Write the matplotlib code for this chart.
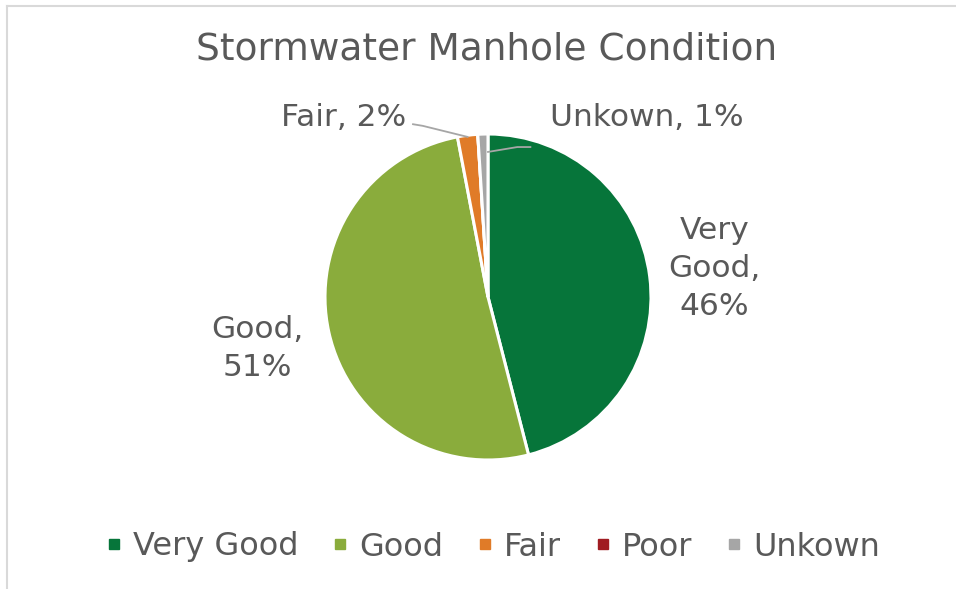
import matplotlib

matplotlib.use("Agg")
import matplotlib.pyplot as plt
import numpy as np
from matplotlib.lines import Line2D

# --- data ---------------------------------------------------------------
CATEGORIES = ["Very Good", "Good", "Fair", "Poor", "Unkown"]
SHARES = [46, 51, 2, 0, 1]
COLORS = ["#06753A", "#8AAC3C", "#E07B28", "#A01C22", "#A6A6A6"]

TEXT = "#595959"
FRAME = "#D9D9D9"

W, H, DPI = 956, 589, 100
CX, CY, R = 488, 297, 163  # pie centre / radius in pixels

plt.rcParams["font.family"] = ["DejaVu Sans"]

fig = plt.figure(figsize=(W / DPI, H / DPI), dpi=DPI)
ax = fig.add_axes([0, 0, 1, 1])
ax.axis("off")

wedges, _ = ax.pie(SHARES, colors=COLORS, startangle=90, counterclock=False,
                   radius=1.0, wedgeprops=dict(edgecolor="white", linewidth=2.2))
ax.set_xlim(-CX / R, (W - CX) / R)
ax.set_ylim(-(H - CY) / R, CY / R)
ax.set_aspect("auto")


def mid_angle(w):
    return np.deg2rad((w.theta1 + w.theta2) / 2)


LABEL_FS = 22.5

# big slices: labels out along the mid angle
for i, dist in ((0, 1.40), (1, 1.45)):
    a = mid_angle(wedges[i])
    name = CATEGORIES[i].replace(" ", "\n")
    ax.text(dist * np.cos(a), dist * np.sin(a), f"{name},\n{SHARES[i]}%",
            ha="center", va="center", fontsize=LABEL_FS, color=TEXT, linespacing=1.38)

# small slices: labels with leader lines
a = mid_angle(wedges[2])
p0 = (np.cos(a), np.sin(a))
ax.plot([p0[0], -0.40, -0.46], [p0[1] - 0.01, 1.05, 1.06], color="#A6A6A6", lw=1.3)
ax.text(-0.50, 1.10, f"{CATEGORIES[2]}, {SHARES[2]}%", ha="right", va="center",
        fontsize=LABEL_FS, color=TEXT)

ax.plot([0.0, 0.18, 0.26], [0.89, 0.92, 0.92], color="#A6A6A6", lw=1.3)
ax.text(0.38, 1.10, f"{CATEGORIES[4]}, {SHARES[4]}%", ha="left", va="center",
        fontsize=LABEL_FS, color=TEXT)

fig.text(487 / W, 1 - 50 / H, "Stormwater Manhole Condition", ha="center", va="center",
         fontsize=27, color=TEXT)

handles = [Line2D([], [], ls="", marker="s", markersize=7.5, color=c) for c in COLORS]
fig.legend(handles, CATEGORIES, loc="center", bbox_to_anchor=(0.515, 1 - 547 / H),
           ncol=5, frameon=False, fontsize=23, labelcolor=TEXT, handletextpad=0.3,
           columnspacing=1.0, handlelength=0.6)

# chart frame (cut off at right and bottom)
fig.add_artist(Line2D([7 / W, 7 / W], [0, 1 - 6 / H], color=FRAME, lw=1.5))
fig.add_artist(Line2D([7 / W, 1], [1 - 6 / H, 1 - 6 / H], color=FRAME, lw=1.5))

fig.savefig("out.png", dpi=DPI, facecolor="white")
